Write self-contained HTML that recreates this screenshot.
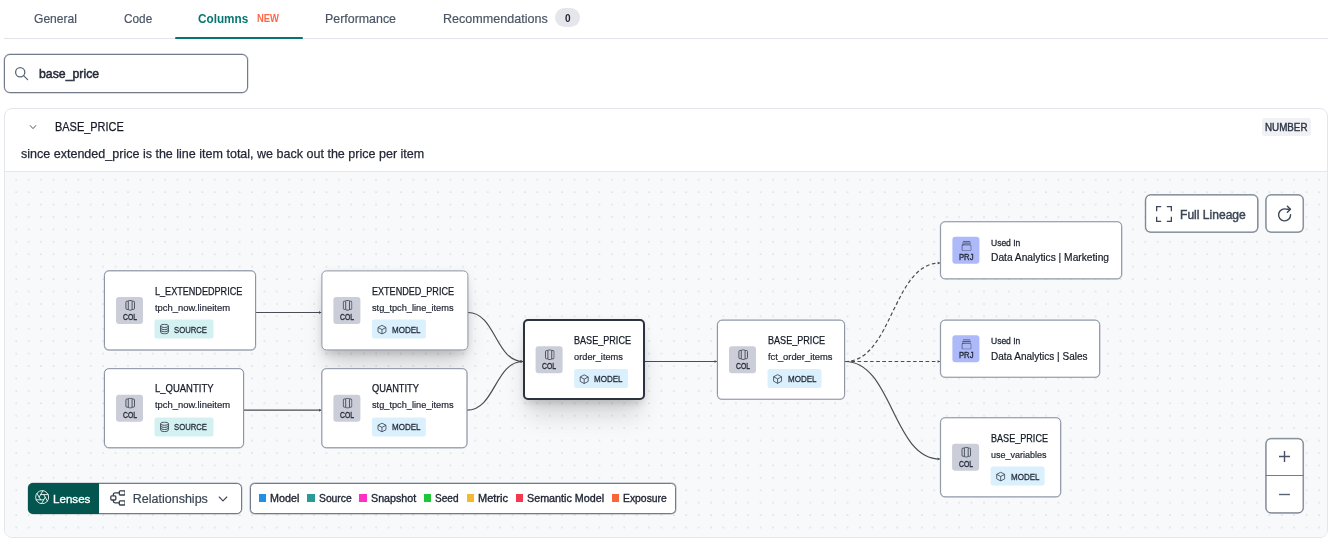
<!DOCTYPE html><html><head><meta charset="utf-8"><title>Columns</title><style>html,body{margin:0;padding:0;background:#fff}body{position:relative;width:1336px;height:544px;overflow:hidden;font-family:"Liberation Sans", sans-serif}span{display:block}</style></head><body><div id="root" style="position:absolute;left:0;top:0;width:1336px;height:544px;will-change:transform">
<div style="position:absolute;left:4px;top:38px;width:1324px;height:1px;background:#e1e4e9"></div>
<div style="position:absolute;left:175px;top:37px;width:127.5px;height:2px;background:#06756f;border-radius:1px"></div>
<div style="position:absolute;left:555.3px;top:8.3px;width:24.5px;height:19.2px;border-radius:10px;background:#e4e6eb"></div>
<div style="position:absolute;left:4px;top:54px;width:244px;height:38.5px;box-sizing:border-box;border:1px solid #727b8b;border-radius:6px;background:#fff;box-shadow:0 0 0 0.4px rgba(114,123,139,0.55)"></div>
<svg style="position:absolute;left:14px;top:65.5px" width="15" height="15" viewBox="0 0 15 15" fill="none" stroke="#5d6676" stroke-width="1.3" stroke-linecap="round"><circle cx="6.2" cy="6.2" r="4.6"/><path d="M9.6 9.6 L13.6 13.6"/></svg>
<div style="position:absolute;left:4px;top:108px;width:1324px;height:429.5px;box-sizing:border-box;border:1px solid #e3e6ea;border-radius:8px;background:#fff"></div>
<svg style="position:absolute;left:29px;top:123px" width="8" height="8" viewBox="0 0 8 8" fill="none" stroke="#4a5565" stroke-width="1" stroke-linecap="round" stroke-linejoin="round"><path d="M1.2 2.6 L4 5.6 L6.8 2.6"/></svg>
<div style="position:absolute;left:1261.5px;top:118px;width:49.5px;height:17.5px;border-radius:3px;background:#eff1f5"></div>
<div id="graph" style="position:absolute;left:5px;top:171px;width:1322px;height:365.5px;border-top:1px solid #e3e6ea;box-sizing:border-box;border-radius:0 0 7px 7px;background-color:#f8f9fb;background-image:radial-gradient(ellipse 1.15px 0.8px at 1px 1px,#cfd2d9 40%,rgba(207,210,217,0) 100%);background-size:12.41px 12.43px;background-position:10.30px 6.70px"></div>
<svg style="position:absolute;left:0;top:0" width="1336" height="544" viewBox="0 0 1336 544" fill="none" stroke="#4a4d53" stroke-width="1.2"><path d="M256 312.5 C288.7 312.5 288.7 312.5 321.4 312.5"/><path d="M319.0 311.0 L321.0 312.5 L319.0 314.0 Z" fill="#4a4d53" stroke="none"/><path d="M243.8 410.2 C282.6 410.2 282.6 410.2 321.4 410.2"/><path d="M319.0 408.7 L321.0 410.2 L319.0 411.7 Z" fill="#4a4d53" stroke="none"/><path d="M468 312.5 C495.5 312.5 495.5 361.5 523 361.5"/><path d="M520.6 360.0 L522.6 361.5 L520.6 363.0 Z" fill="#4a4d53" stroke="none"/><path d="M467 410.2 C495.0 410.2 495.0 361.5 523 361.5"/><path d="M520.6 360.0 L522.6 361.5 L520.6 363.0 Z" fill="#4a4d53" stroke="none"/><path d="M645 361.5 C681.0 361.5 681.0 361.5 717 361.5"/><path d="M714.6 360.0 L716.6 361.5 L714.6 363.0 Z" fill="#4a4d53" stroke="none"/><path d="M845 361.5 C892.5 361.5 892.5 263 940 263" stroke-dasharray="3.72 2.48"/><path d="M937.6 261.5 L939.6 263 L937.6 264.5 Z" fill="#4a4d53" stroke="none"/><path d="M845 361.5 C892.5 361.5 892.5 361.5 940 361.5" stroke-dasharray="3.72 2.48"/><path d="M937.6 360.0 L939.6 361.5 L937.6 363.0 Z" fill="#4a4d53" stroke="none"/><path d="M845 361.5 C892.5 361.5 892.5 459 940 459"/><path d="M937.6 457.5 L939.6 459 L937.6 460.5 Z" fill="#4a4d53" stroke="none"/></svg>
<div style="position:absolute;left:104px;top:270px;width:152px;height:80.2px;box-sizing:border-box;border:1px solid #8d95a5;border-radius:5px;background:#fff;box-shadow:0 0 0 0.3px rgba(141,149,165,0.55);transform:translate(0.00px,0.40px);"></div>
<div style="position:absolute;left:116px;top:296px;width:27.4px;height:27.4px;border-radius:3px;background:#cbced8;transform:translate(0.00px,0.90px);"><svg style="position:absolute;left:8.7px;top:3.2px" width="10.4" height="10.8" viewBox="0 0 10.4 10.8" fill="none" stroke="#3a4150" stroke-width="0.85" stroke-linejoin="round"><path d="M3.3 1.3 H1.9 Q0.9 1.3 0.9 2.3 V8.5 Q0.9 9.5 1.9 9.5 H3.3 M7.1 1.3 H8.5 Q9.5 1.3 9.5 2.3 V8.5 Q9.5 9.5 8.5 9.5 H7.1"/><rect x="3.3" y="0.6" width="3.8" height="9.6" rx="0.9"/></svg></div>
<div style="position:absolute;left:154px;top:319px;width:58.6px;height:19.1px;border-radius:2.5px;background:#d4f1f1;transform:translate(0.50px,0.60px);"><svg style="position:absolute;left:5.4px;top:4.2px" width="10" height="11" viewBox="0 0 10 11" fill="none" stroke="#3a4150" stroke-width="0.9"><ellipse cx="5" cy="2.3" rx="3.9" ry="1.6"/><path d="M1.1 2.3 V8.5 C1.1 9.5 3 10.2 5 10.2 C7 10.2 8.9 9.5 8.9 8.5 V2.3"/><path d="M1.1 4.4 C1.1 5.3 3 6 5 6 C7 6 8.9 5.3 8.9 4.4"/><path d="M1.1 6.5 C1.1 7.4 3 8.1 5 8.1 C7 8.1 8.9 7.4 8.9 6.5"/></svg></div>
<div style="position:absolute;left:104px;top:368px;width:139.8px;height:80.2px;box-sizing:border-box;border:1px solid #8d95a5;border-radius:5px;background:#fff;box-shadow:0 0 0 0.3px rgba(141,149,165,0.55);transform:translate(0.00px,0.20px);"></div>
<div style="position:absolute;left:116px;top:394px;width:27.4px;height:27.4px;border-radius:3px;background:#cbced8;transform:translate(0.00px,0.70px);"><svg style="position:absolute;left:8.7px;top:3.2px" width="10.4" height="10.8" viewBox="0 0 10.4 10.8" fill="none" stroke="#3a4150" stroke-width="0.85" stroke-linejoin="round"><path d="M3.3 1.3 H1.9 Q0.9 1.3 0.9 2.3 V8.5 Q0.9 9.5 1.9 9.5 H3.3 M7.1 1.3 H8.5 Q9.5 1.3 9.5 2.3 V8.5 Q9.5 9.5 8.5 9.5 H7.1"/><rect x="3.3" y="0.6" width="3.8" height="9.6" rx="0.9"/></svg></div>
<div style="position:absolute;left:154px;top:417px;width:58.6px;height:19.1px;border-radius:2.5px;background:#d4f1f1;transform:translate(0.50px,0.40px);"><svg style="position:absolute;left:5.4px;top:4.2px" width="10" height="11" viewBox="0 0 10 11" fill="none" stroke="#3a4150" stroke-width="0.9"><ellipse cx="5" cy="2.3" rx="3.9" ry="1.6"/><path d="M1.1 2.3 V8.5 C1.1 9.5 3 10.2 5 10.2 C7 10.2 8.9 9.5 8.9 8.5 V2.3"/><path d="M1.1 4.4 C1.1 5.3 3 6 5 6 C7 6 8.9 5.3 8.9 4.4"/><path d="M1.1 6.5 C1.1 7.4 3 8.1 5 8.1 C7 8.1 8.9 7.4 8.9 6.5"/></svg></div>
<div style="position:absolute;left:321px;top:270px;width:146.6px;height:80.2px;box-sizing:border-box;border:1px solid #8d95a5;border-radius:5px;background:#fff;box-shadow:0 20px 25px -5px rgba(0,0,0,0.14),0 8px 10px -4px rgba(0,0,0,0.10),0 2px 8px rgba(0,0,0,0.07);transform:translate(0.40px,0.40px);"></div>
<div style="position:absolute;left:333px;top:296px;width:27.4px;height:27.4px;border-radius:3px;background:#cbced8;transform:translate(0.40px,0.90px);"><svg style="position:absolute;left:8.7px;top:3.2px" width="10.4" height="10.8" viewBox="0 0 10.4 10.8" fill="none" stroke="#3a4150" stroke-width="0.85" stroke-linejoin="round"><path d="M3.3 1.3 H1.9 Q0.9 1.3 0.9 2.3 V8.5 Q0.9 9.5 1.9 9.5 H3.3 M7.1 1.3 H8.5 Q9.5 1.3 9.5 2.3 V8.5 Q9.5 9.5 8.5 9.5 H7.1"/><rect x="3.3" y="0.6" width="3.8" height="9.6" rx="0.9"/></svg></div>
<div style="position:absolute;left:371px;top:319px;width:54px;height:19.1px;border-radius:2.5px;background:#dbf0fd;transform:translate(0.90px,0.60px);"><svg style="position:absolute;left:5.2px;top:4.5px" width="10.2" height="10.2" viewBox="0 0 11 11" fill="none" stroke="#3a4150" stroke-width="0.9" stroke-linejoin="round"><path d="M5.5 0.8 L9.8 3.1 V7.9 L5.5 10.2 L1.2 7.9 V3.1 Z"/><path d="M1.2 3.1 L5.5 5.4 L9.8 3.1 M5.5 5.4 V10.2"/></svg></div>
<div style="position:absolute;left:321px;top:368px;width:145.6px;height:80.2px;box-sizing:border-box;border:1px solid #8d95a5;border-radius:5px;background:#fff;box-shadow:0 0 0 0.3px rgba(141,149,165,0.55);transform:translate(0.40px,0.20px);"></div>
<div style="position:absolute;left:333px;top:394px;width:27.4px;height:27.4px;border-radius:3px;background:#cbced8;transform:translate(0.40px,0.70px);"><svg style="position:absolute;left:8.7px;top:3.2px" width="10.4" height="10.8" viewBox="0 0 10.4 10.8" fill="none" stroke="#3a4150" stroke-width="0.85" stroke-linejoin="round"><path d="M3.3 1.3 H1.9 Q0.9 1.3 0.9 2.3 V8.5 Q0.9 9.5 1.9 9.5 H3.3 M7.1 1.3 H8.5 Q9.5 1.3 9.5 2.3 V8.5 Q9.5 9.5 8.5 9.5 H7.1"/><rect x="3.3" y="0.6" width="3.8" height="9.6" rx="0.9"/></svg></div>
<div style="position:absolute;left:371px;top:417px;width:54px;height:19.1px;border-radius:2.5px;background:#dbf0fd;transform:translate(0.90px,0.40px);"><svg style="position:absolute;left:5.2px;top:4.5px" width="10.2" height="10.2" viewBox="0 0 11 11" fill="none" stroke="#3a4150" stroke-width="0.9" stroke-linejoin="round"><path d="M5.5 0.8 L9.8 3.1 V7.9 L5.5 10.2 L1.2 7.9 V3.1 Z"/><path d="M1.2 3.1 L5.5 5.4 L9.8 3.1 M5.5 5.4 V10.2"/></svg></div>
<div style="position:absolute;left:523px;top:319px;width:122px;height:81px;box-sizing:border-box;border:2px solid #2c323e;border-radius:5px;background:#fff;box-shadow:0 20px 25px -5px rgba(0,0,0,0.14),0 8px 10px -4px rgba(0,0,0,0.10),0 2px 8px rgba(0,0,0,0.07);"></div>
<div style="position:absolute;left:535px;top:346px;width:27.4px;height:27.4px;border-radius:3px;background:#cbced8;transform:translate(0.60px,0.30px);"><svg style="position:absolute;left:8.7px;top:3.2px" width="10.4" height="10.8" viewBox="0 0 10.4 10.8" fill="none" stroke="#3a4150" stroke-width="0.85" stroke-linejoin="round"><path d="M3.3 1.3 H1.9 Q0.9 1.3 0.9 2.3 V8.5 Q0.9 9.5 1.9 9.5 H3.3 M7.1 1.3 H8.5 Q9.5 1.3 9.5 2.3 V8.5 Q9.5 9.5 8.5 9.5 H7.1"/><rect x="3.3" y="0.6" width="3.8" height="9.6" rx="0.9"/></svg></div>
<div style="position:absolute;left:574px;top:369px;width:54px;height:19.1px;border-radius:2.5px;background:#dbf0fd;transform:translate(0.10px,0.10px);"><svg style="position:absolute;left:5.2px;top:4.5px" width="10.2" height="10.2" viewBox="0 0 11 11" fill="none" stroke="#3a4150" stroke-width="0.9" stroke-linejoin="round"><path d="M5.5 0.8 L9.8 3.1 V7.9 L5.5 10.2 L1.2 7.9 V3.1 Z"/><path d="M1.2 3.1 L5.5 5.4 L9.8 3.1 M5.5 5.4 V10.2"/></svg></div>
<div style="position:absolute;left:717px;top:319px;width:127.8px;height:80.2px;box-sizing:border-box;border:1px solid #8d95a5;border-radius:5px;background:#fff;box-shadow:0 0 0 0.3px rgba(141,149,165,0.55);transform:translate(0.00px,0.70px);"></div>
<div style="position:absolute;left:729px;top:346px;width:27.4px;height:27.4px;border-radius:3px;background:#cbced8;transform:translate(0.00px,0.20px);"><svg style="position:absolute;left:8.7px;top:3.2px" width="10.4" height="10.8" viewBox="0 0 10.4 10.8" fill="none" stroke="#3a4150" stroke-width="0.85" stroke-linejoin="round"><path d="M3.3 1.3 H1.9 Q0.9 1.3 0.9 2.3 V8.5 Q0.9 9.5 1.9 9.5 H3.3 M7.1 1.3 H8.5 Q9.5 1.3 9.5 2.3 V8.5 Q9.5 9.5 8.5 9.5 H7.1"/><rect x="3.3" y="0.6" width="3.8" height="9.6" rx="0.9"/></svg></div>
<div style="position:absolute;left:767px;top:368px;width:54px;height:19.1px;border-radius:2.5px;background:#dbf0fd;transform:translate(0.50px,0.90px);"><svg style="position:absolute;left:5.2px;top:4.5px" width="10.2" height="10.2" viewBox="0 0 11 11" fill="none" stroke="#3a4150" stroke-width="0.9" stroke-linejoin="round"><path d="M5.5 0.8 L9.8 3.1 V7.9 L5.5 10.2 L1.2 7.9 V3.1 Z"/><path d="M1.2 3.1 L5.5 5.4 L9.8 3.1 M5.5 5.4 V10.2"/></svg></div>
<div style="position:absolute;left:940px;top:221px;width:182px;height:58.3px;box-sizing:border-box;border:1px solid #8d95a5;border-radius:5px;background:#fff;box-shadow:0 0 0 0.3px rgba(141,149,165,0.55);transform:translate(0.10px,0.30px);"></div>
<div style="position:absolute;left:952px;top:236px;width:27.4px;height:27.3px;border-radius:3px;background:#aeb9fa;transform:translate(0.40px,0.85px);"><svg style="position:absolute;left:8.6px;top:3.6px" width="10.4" height="10.6" viewBox="0 0 10.4 10.6" fill="none" stroke="#3a4150" stroke-width="0.8" stroke-linejoin="round" stroke-linecap="round"><rect x="0.6" y="4" width="9.2" height="6" rx="0.9"/><path d="M1.3 2.2 H9.1 M2 0.5 H8.4"/></svg></div>
<div style="position:absolute;left:940px;top:319px;width:160px;height:58.3px;box-sizing:border-box;border:1px solid #8d95a5;border-radius:5px;background:#fff;box-shadow:0 0 0 0.3px rgba(141,149,165,0.55);transform:translate(0.10px,0.70px);"></div>
<div style="position:absolute;left:952px;top:335px;width:27.4px;height:27.3px;border-radius:3px;background:#aeb9fa;transform:translate(0.40px,0.25px);"><svg style="position:absolute;left:8.6px;top:3.6px" width="10.4" height="10.6" viewBox="0 0 10.4 10.6" fill="none" stroke="#3a4150" stroke-width="0.8" stroke-linejoin="round" stroke-linecap="round"><rect x="0.6" y="4" width="9.2" height="6" rx="0.9"/><path d="M1.3 2.2 H9.1 M2 0.5 H8.4"/></svg></div>
<div style="position:absolute;left:940px;top:417px;width:121.2px;height:80.2px;box-sizing:border-box;border:1px solid #8d95a5;border-radius:5px;background:#fff;box-shadow:0 0 0 0.3px rgba(141,149,165,0.55);transform:translate(0.10px,0.30px);"></div>
<div style="position:absolute;left:952px;top:443px;width:27.4px;height:27.4px;border-radius:3px;background:#cbced8;transform:translate(0.10px,0.80px);"><svg style="position:absolute;left:8.7px;top:3.2px" width="10.4" height="10.8" viewBox="0 0 10.4 10.8" fill="none" stroke="#3a4150" stroke-width="0.85" stroke-linejoin="round"><path d="M3.3 1.3 H1.9 Q0.9 1.3 0.9 2.3 V8.5 Q0.9 9.5 1.9 9.5 H3.3 M7.1 1.3 H8.5 Q9.5 1.3 9.5 2.3 V8.5 Q9.5 9.5 8.5 9.5 H7.1"/><rect x="3.3" y="0.6" width="3.8" height="9.6" rx="0.9"/></svg></div>
<div style="position:absolute;left:990px;top:466px;width:54px;height:19.1px;border-radius:2.5px;background:#dbf0fd;transform:translate(0.60px,0.50px);"><svg style="position:absolute;left:5.2px;top:4.5px" width="10.2" height="10.2" viewBox="0 0 11 11" fill="none" stroke="#3a4150" stroke-width="0.9" stroke-linejoin="round"><path d="M5.5 0.8 L9.8 3.1 V7.9 L5.5 10.2 L1.2 7.9 V3.1 Z"/><path d="M1.2 3.1 L5.5 5.4 L9.8 3.1 M5.5 5.4 V10.2"/></svg></div>
<div style="position:absolute;left:1145px;top:194px;width:112.8px;height:38.1px;box-sizing:border-box;border:1px solid #727b8b;border-radius:5.5px;background:#fff;box-shadow:0 0 0 0.45px rgba(114,123,139,0.6);transform:translate(0.20px,0.50px);"></div>
<svg style="position:absolute;left:1156px;top:205.7px" width="16" height="16" viewBox="0 0 16 16" fill="none" stroke="#3c4656" stroke-width="1.3"><path d="M0.65 5.2 V0.65 H5.2 M10.8 0.65 H15.35 V5.2 M15.35 10.8 V15.35 H10.8 M5.2 15.35 H0.65 V10.8"/></svg>
<div style="position:absolute;left:1265px;top:194px;width:38.1px;height:38.1px;box-sizing:border-box;border:1px solid #727b8b;border-radius:5.5px;background:#fff;box-shadow:0 0 0 0.45px rgba(114,123,139,0.6);transform:translate(0.60px,0.50px);"></div>
<svg style="position:absolute;left:1277px;top:205px" width="16" height="17" viewBox="0 0 16 17" fill="none" stroke="#3c4656" stroke-width="1.4" stroke-linecap="round" stroke-linejoin="round"><path d="M13.6 9.8 A6 6 0 1 1 9.6 4.2 L13 4.2"/><path d="M10.4 1.2 L13.4 4.2 L10.4 7.2"/></svg>
<div style="position:absolute;left:1265px;top:438px;width:38.1px;height:75.1px;box-sizing:border-box;border:1px solid #727b8b;border-radius:5.5px;background:#fff;box-shadow:0 0 0 0.45px rgba(114,123,139,0.6);transform:translate(0.60px,0.30px);"></div>
<div style="position:absolute;left:1265px;top:475px;width:38.1px;height:1px;background:#727b8b;transform:translate(0.60px,0.00px);"></div>
<svg style="position:absolute;left:1278px;top:450.4px" width="13" height="13" viewBox="0 0 13 13" fill="none" stroke="#4a5363" stroke-width="1.4"><path d="M1 6.5 H12 M6.5 1 V12"/></svg>
<svg style="position:absolute;left:1278px;top:487.8px" width="13" height="13" viewBox="0 0 13 13" fill="none" stroke="#5a6372" stroke-width="1.4"><path d="M1 6.5 H12"/></svg>
<div style="position:absolute;left:27.5px;top:483px;width:214.3px;height:30.5px;box-sizing:border-box;border:1px solid #727b8b;border-radius:5px;background:#fff;box-shadow:0 0 0 0.4px rgba(114,123,139,0.55)"></div>
<div style="position:absolute;left:27.5px;top:483px;width:71.2px;height:30.5px;border-radius:5px 0 0 5px;background:#03564f"></div>
<svg style="position:absolute;left:34.6px;top:489.7px" width="14.4" height="14.4" viewBox="1 1 22 22" fill="none" stroke="#e6f1ef" stroke-width="1.45" stroke-linecap="round" stroke-linejoin="round"><circle cx="12" cy="12" r="10"/><path d="m14.31 8 5.74 9.94M9.69 8h11.48M7.38 12l5.74-9.94M9.69 16 3.95 6.06M14.31 16H2.83M16.62 12l-5.74 9.94"/></svg>
<svg style="position:absolute;left:109.5px;top:490.2px" width="15.8" height="15.8" viewBox="-0.5 -0.5 15.8 15.8" fill="none" stroke="#353f4e" stroke-width="1.3" stroke-linejoin="round"><rect x="0.3" y="5.3" width="5" height="4.2" rx="0.9"/><rect x="8.8" y="0.3" width="5.8" height="4.2" rx="0.9"/><rect x="8.8" y="10.3" width="5.8" height="4.2" rx="0.9"/><path d="M2.8 5.3 V4.2 Q2.8 2.4 4.6 2.4 H8.8 M2.8 9.5 V10.6 Q2.8 12.4 4.6 12.4 H8.8"/></svg>
<svg style="position:absolute;left:218.3px;top:494.8px" width="10" height="8" viewBox="0 0 10 8" fill="none" stroke="#3c4656" stroke-width="1.1" stroke-linecap="round" stroke-linejoin="round"><path d="M1.2 2 L5 5.8 L8.8 2"/></svg>
<div style="position:absolute;left:250px;top:483px;width:425.7px;height:30.5px;box-sizing:border-box;border:1px solid #727b8b;border-radius:4.5px;background:#fff;box-shadow:0 0 0 0.45px rgba(114,123,139,0.6)"></div>
<div style="position:absolute;left:258.5px;top:494.3px;width:7.5px;height:7.5px;background:#1e90e6"></div>
<div style="position:absolute;left:307.4px;top:494.3px;width:7.5px;height:7.5px;background:#2a9a98"></div>
<div style="position:absolute;left:359.2px;top:494.3px;width:7.5px;height:7.5px;background:#fe2fc2"></div>
<div style="position:absolute;left:423.9px;top:494.3px;width:7.5px;height:7.5px;background:#1ec73a"></div>
<div style="position:absolute;left:466.7px;top:494.3px;width:7.5px;height:7.5px;background:#f4b92e"></div>
<div style="position:absolute;left:515.5px;top:494.3px;width:7.5px;height:7.5px;background:#f5384f"></div>
<div style="position:absolute;left:611.8px;top:494.3px;width:7.5px;height:7.5px;background:#fa653a"></div>
<span style="position:absolute;left:34.3px;top:11.00px;font-size:13.3px;line-height:15.96px;font-weight:400;color:#4a5565;white-space:pre;transform:scaleX(0.9089);transform-origin:0 0;-webkit-text-stroke:0.2px #4a5565;">General</span>
<span style="position:absolute;left:123.8px;top:11.00px;font-size:13.3px;line-height:15.96px;font-weight:400;color:#4a5565;white-space:pre;transform:scaleX(0.8869);transform-origin:0 0;-webkit-text-stroke:0.2px #4a5565;">Code</span>
<span style="position:absolute;left:198.3px;top:11.00px;font-size:13px;line-height:15.6px;font-weight:700;color:#06756f;white-space:pre;transform:scaleX(0.9025);transform-origin:0 0;">Columns</span>
<span style="position:absolute;left:256.8px;top:13.00px;font-size:10px;line-height:12.0px;font-weight:700;color:#ff6849;white-space:pre;transform:scaleX(0.9424);transform-origin:0 0;">NEW</span>
<span style="position:absolute;left:325.3px;top:11.00px;font-size:13.3px;line-height:15.96px;font-weight:400;color:#4a5565;white-space:pre;transform:scaleX(0.9327);transform-origin:0 0;-webkit-text-stroke:0.2px #4a5565;">Performance</span>
<span style="position:absolute;left:442.8px;top:11.00px;font-size:13.3px;line-height:15.96px;font-weight:400;color:#4a5565;white-space:pre;transform:scaleX(0.9443);transform-origin:0 0;-webkit-text-stroke:0.2px #4a5565;">Recommendations</span>
<span style="position:absolute;left:564.8px;top:12.00px;font-size:10.5px;line-height:12.6px;font-weight:700;color:#1f2532;white-space:pre;transform:scaleX(0.9583);transform-origin:0 0;">0</span>
<span style="position:absolute;left:39.3px;top:66.00px;font-size:13.5px;line-height:16.2px;font-weight:400;color:#232a36;white-space:pre;transform:scaleX(0.9115);transform-origin:0 0;-webkit-text-stroke:0.5px #232a36;">base_price</span>
<span style="position:absolute;left:54.5px;top:119.00px;font-size:13px;line-height:15.6px;font-weight:400;color:#151b26;white-space:pre;transform:scaleX(0.8426);transform-origin:0 0;-webkit-text-stroke:0.25px #151b26;">BASE_PRICE</span>
<span style="position:absolute;left:20.5px;top:146.00px;font-size:13px;line-height:15.6px;font-weight:400;color:#1f2532;white-space:pre;transform:scaleX(0.9637);transform-origin:0 0;-webkit-text-stroke:0.25px #1f2532;">since extended_price is the line item total, we back out the price per item</span>
<span style="position:absolute;left:1265px;top:121.00px;font-size:11px;line-height:13.2px;font-weight:400;color:#2b3341;white-space:pre;transform:scaleX(0.8915);transform-origin:0 0;-webkit-text-stroke:0.4px #2b3341;">NUMBER</span>
<span style="position:absolute;left:122.7px;top:312.00px;font-size:8.8px;line-height:10.56px;font-weight:400;color:#262d3a;white-space:pre;transform:scaleX(0.7737);transform-origin:0 0;-webkit-text-stroke:0.35px #262d3a;">COL</span>
<span style="position:absolute;left:154.8px;top:286.00px;font-size:10.2px;line-height:12.24px;font-weight:400;color:#151b26;white-space:pre;transform:scaleX(0.8912);transform-origin:0 0;-webkit-text-stroke:0.25px #151b26;">L_EXTENDEDPRICE</span>
<span style="position:absolute;left:154.8px;top:303.00px;font-size:9.2px;line-height:11.04px;font-weight:400;color:#1f2532;white-space:pre;transform:scaleX(1.0267);transform-origin:0 0;-webkit-text-stroke:0.2px #1f2532;">tpch_now.lineitem</span>
<span style="position:absolute;left:174.3px;top:324.00px;font-size:9.6px;line-height:11.52px;font-weight:400;color:#262d3a;white-space:pre;transform:scaleX(0.8040);transform-origin:0 0;-webkit-text-stroke:0.28px #262d3a;">SOURCE</span>
<span style="position:absolute;left:122.7px;top:410.00px;font-size:8.8px;line-height:10.56px;font-weight:400;color:#262d3a;white-space:pre;transform:scaleX(0.7737);transform-origin:0 0;-webkit-text-stroke:0.35px #262d3a;">COL</span>
<span style="position:absolute;left:154.8px;top:383.00px;font-size:10.2px;line-height:12.24px;font-weight:400;color:#151b26;white-space:pre;transform:scaleX(0.9309);transform-origin:0 0;-webkit-text-stroke:0.25px #151b26;">L_QUANTITY</span>
<span style="position:absolute;left:154.8px;top:400.00px;font-size:9.2px;line-height:11.04px;font-weight:400;color:#1f2532;white-space:pre;transform:scaleX(1.0267);transform-origin:0 0;-webkit-text-stroke:0.2px #1f2532;">tpch_now.lineitem</span>
<span style="position:absolute;left:174.3px;top:421.00px;font-size:9.6px;line-height:11.52px;font-weight:400;color:#262d3a;white-space:pre;transform:scaleX(0.8040);transform-origin:0 0;-webkit-text-stroke:0.28px #262d3a;">SOURCE</span>
<span style="position:absolute;left:340.09999999999997px;top:312.00px;font-size:8.8px;line-height:10.56px;font-weight:400;color:#262d3a;white-space:pre;transform:scaleX(0.7737);transform-origin:0 0;-webkit-text-stroke:0.35px #262d3a;">COL</span>
<span style="position:absolute;left:372.2px;top:286.00px;font-size:10.2px;line-height:12.24px;font-weight:400;color:#151b26;white-space:pre;transform:scaleX(0.8886);transform-origin:0 0;-webkit-text-stroke:0.25px #151b26;">EXTENDED_PRICE</span>
<span style="position:absolute;left:372.2px;top:303.00px;font-size:9.2px;line-height:11.04px;font-weight:400;color:#1f2532;white-space:pre;transform:scaleX(1.0037);transform-origin:0 0;-webkit-text-stroke:0.2px #1f2532;">stg_tpch_line_items</span>
<span style="position:absolute;left:392.0px;top:324.00px;font-size:9.6px;line-height:11.52px;font-weight:400;color:#262d3a;white-space:pre;transform:scaleX(0.8381);transform-origin:0 0;-webkit-text-stroke:0.28px #262d3a;">MODEL</span>
<span style="position:absolute;left:340.09999999999997px;top:410.00px;font-size:8.8px;line-height:10.56px;font-weight:400;color:#262d3a;white-space:pre;transform:scaleX(0.7737);transform-origin:0 0;-webkit-text-stroke:0.35px #262d3a;">COL</span>
<span style="position:absolute;left:372.2px;top:383.00px;font-size:10.2px;line-height:12.24px;font-weight:400;color:#151b26;white-space:pre;transform:scaleX(0.9123);transform-origin:0 0;-webkit-text-stroke:0.25px #151b26;">QUANTITY</span>
<span style="position:absolute;left:372.2px;top:400.00px;font-size:9.2px;line-height:11.04px;font-weight:400;color:#1f2532;white-space:pre;transform:scaleX(1.0037);transform-origin:0 0;-webkit-text-stroke:0.2px #1f2532;">stg_tpch_line_items</span>
<span style="position:absolute;left:392.0px;top:421.00px;font-size:9.6px;line-height:11.52px;font-weight:400;color:#262d3a;white-space:pre;transform:scaleX(0.8381);transform-origin:0 0;-webkit-text-stroke:0.28px #262d3a;">MODEL</span>
<span style="position:absolute;left:542.3000000000001px;top:361.00px;font-size:8.8px;line-height:10.56px;font-weight:400;color:#262d3a;white-space:pre;transform:scaleX(0.7737);transform-origin:0 0;-webkit-text-stroke:0.35px #262d3a;">COL</span>
<span style="position:absolute;left:574.4px;top:335.00px;font-size:10.2px;line-height:12.24px;font-weight:400;color:#151b26;white-space:pre;transform:scaleX(0.8908);transform-origin:0 0;-webkit-text-stroke:0.25px #151b26;">BASE_PRICE</span>
<span style="position:absolute;left:574.4px;top:352.00px;font-size:9.2px;line-height:11.04px;font-weight:400;color:#1f2532;white-space:pre;transform:scaleX(1.0100);transform-origin:0 0;-webkit-text-stroke:0.2px #1f2532;">order_items</span>
<span style="position:absolute;left:594.1999999999999px;top:373.00px;font-size:9.6px;line-height:11.52px;font-weight:400;color:#262d3a;white-space:pre;transform:scaleX(0.8381);transform-origin:0 0;-webkit-text-stroke:0.28px #262d3a;">MODEL</span>
<span style="position:absolute;left:735.7px;top:361.00px;font-size:8.8px;line-height:10.56px;font-weight:400;color:#262d3a;white-space:pre;transform:scaleX(0.7737);transform-origin:0 0;-webkit-text-stroke:0.35px #262d3a;">COL</span>
<span style="position:absolute;left:767.8px;top:335.00px;font-size:10.2px;line-height:12.24px;font-weight:400;color:#151b26;white-space:pre;transform:scaleX(0.8908);transform-origin:0 0;-webkit-text-stroke:0.25px #151b26;">BASE_PRICE</span>
<span style="position:absolute;left:767.8px;top:352.00px;font-size:9.2px;line-height:11.04px;font-weight:400;color:#1f2532;white-space:pre;transform:scaleX(1.0185);transform-origin:0 0;-webkit-text-stroke:0.2px #1f2532;">fct_order_items</span>
<span style="position:absolute;left:787.5999999999999px;top:373.00px;font-size:9.6px;line-height:11.52px;font-weight:400;color:#262d3a;white-space:pre;transform:scaleX(0.8381);transform-origin:0 0;-webkit-text-stroke:0.28px #262d3a;">MODEL</span>
<span style="position:absolute;left:958.8000000000001px;top:252.00px;font-size:8.5px;line-height:10.2px;font-weight:400;color:#262d3a;white-space:pre;transform:scaleX(0.9027);transform-origin:0 0;-webkit-text-stroke:0.35px #262d3a;">PRJ</span>
<span style="position:absolute;left:990.9px;top:238.00px;font-size:9px;line-height:10.8px;font-weight:400;color:#1f2532;white-space:pre;transform:scaleX(0.9442);transform-origin:0 0;-webkit-text-stroke:0.3px #1f2532;">Used In</span>
<span style="position:absolute;left:990.9px;top:251.00px;font-size:10.5px;line-height:12.6px;font-weight:400;color:#151b26;white-space:pre;transform:scaleX(0.9736);transform-origin:0 0;-webkit-text-stroke:0.2px #151b26;">Data Analytics | Marketing</span>
<span style="position:absolute;left:958.8000000000001px;top:350.00px;font-size:8.5px;line-height:10.2px;font-weight:400;color:#262d3a;white-space:pre;transform:scaleX(0.9027);transform-origin:0 0;-webkit-text-stroke:0.35px #262d3a;">PRJ</span>
<span style="position:absolute;left:990.9px;top:336.00px;font-size:9px;line-height:10.8px;font-weight:400;color:#1f2532;white-space:pre;transform:scaleX(0.9442);transform-origin:0 0;-webkit-text-stroke:0.3px #1f2532;">Used In</span>
<span style="position:absolute;left:990.9px;top:350.00px;font-size:10.5px;line-height:12.6px;font-weight:400;color:#151b26;white-space:pre;transform:scaleX(0.9519);transform-origin:0 0;-webkit-text-stroke:0.2px #151b26;">Data Analytics | Sales</span>
<span style="position:absolute;left:958.8000000000001px;top:459.00px;font-size:8.8px;line-height:10.56px;font-weight:400;color:#262d3a;white-space:pre;transform:scaleX(0.7737);transform-origin:0 0;-webkit-text-stroke:0.35px #262d3a;">COL</span>
<span style="position:absolute;left:990.9px;top:433.00px;font-size:10.2px;line-height:12.24px;font-weight:400;color:#151b26;white-space:pre;transform:scaleX(0.8908);transform-origin:0 0;-webkit-text-stroke:0.25px #151b26;">BASE_PRICE</span>
<span style="position:absolute;left:990.9px;top:450.00px;font-size:9.2px;line-height:11.04px;font-weight:400;color:#1f2532;white-space:pre;transform:scaleX(0.9788);transform-origin:0 0;-webkit-text-stroke:0.2px #1f2532;">use_variables</span>
<span style="position:absolute;left:1010.6999999999999px;top:471.00px;font-size:9.6px;line-height:11.52px;font-weight:400;color:#262d3a;white-space:pre;transform:scaleX(0.8381);transform-origin:0 0;-webkit-text-stroke:0.28px #262d3a;">MODEL</span>
<span style="position:absolute;left:1180.4px;top:207.00px;font-size:13px;line-height:15.6px;font-weight:400;color:#3c4656;white-space:pre;transform:scaleX(0.9290);transform-origin:0 0;-webkit-text-stroke:0.45px #3c4656;">Full Lineage</span>
<span style="position:absolute;left:52.8px;top:492.00px;font-size:11.8px;line-height:14.16px;font-weight:400;color:#ffffff;white-space:pre;transform:scaleX(0.9830);transform-origin:0 0;-webkit-text-stroke:0.35px #ffffff;">Lenses</span>
<span style="position:absolute;left:132.8px;top:492.00px;font-size:12.5px;line-height:15.0px;font-weight:400;color:#3c4656;white-space:pre;-webkit-text-stroke:0.2px #3c4656;">Relationships</span>
<span style="position:absolute;left:270.3px;top:492.00px;font-size:10.5px;line-height:12.6px;font-weight:400;color:#1f2532;white-space:pre;transform:scaleX(1.0241);transform-origin:0 0;-webkit-text-stroke:0.35px #1f2532;">Model</span>
<span style="position:absolute;left:318.8px;top:492.00px;font-size:10.5px;line-height:12.6px;font-weight:400;color:#1f2532;white-space:pre;transform:scaleX(0.9825);transform-origin:0 0;-webkit-text-stroke:0.35px #1f2532;">Source</span>
<span style="position:absolute;left:371px;top:492.00px;font-size:10.5px;line-height:12.6px;font-weight:400;color:#1f2532;white-space:pre;transform:scaleX(1.0186);transform-origin:0 0;-webkit-text-stroke:0.35px #1f2532;">Snapshot</span>
<span style="position:absolute;left:435.4px;top:492.00px;font-size:10.5px;line-height:12.6px;font-weight:400;color:#1f2532;white-space:pre;transform:scaleX(0.9580);transform-origin:0 0;-webkit-text-stroke:0.35px #1f2532;">Seed</span>
<span style="position:absolute;left:478.1px;top:492.00px;font-size:10.5px;line-height:12.6px;font-weight:400;color:#1f2532;white-space:pre;transform:scaleX(1.0492);transform-origin:0 0;-webkit-text-stroke:0.35px #1f2532;">Metric</span>
<span style="position:absolute;left:527.3px;top:492.00px;font-size:10.5px;line-height:12.6px;font-weight:400;color:#1f2532;white-space:pre;transform:scaleX(1.0239);transform-origin:0 0;-webkit-text-stroke:0.35px #1f2532;">Semantic Model</span>
<span style="position:absolute;left:623.3px;top:492.00px;font-size:10.5px;line-height:12.6px;font-weight:400;color:#1f2532;white-space:pre;transform:scaleX(0.9874);transform-origin:0 0;-webkit-text-stroke:0.35px #1f2532;">Exposure</span>
</div></body></html>
